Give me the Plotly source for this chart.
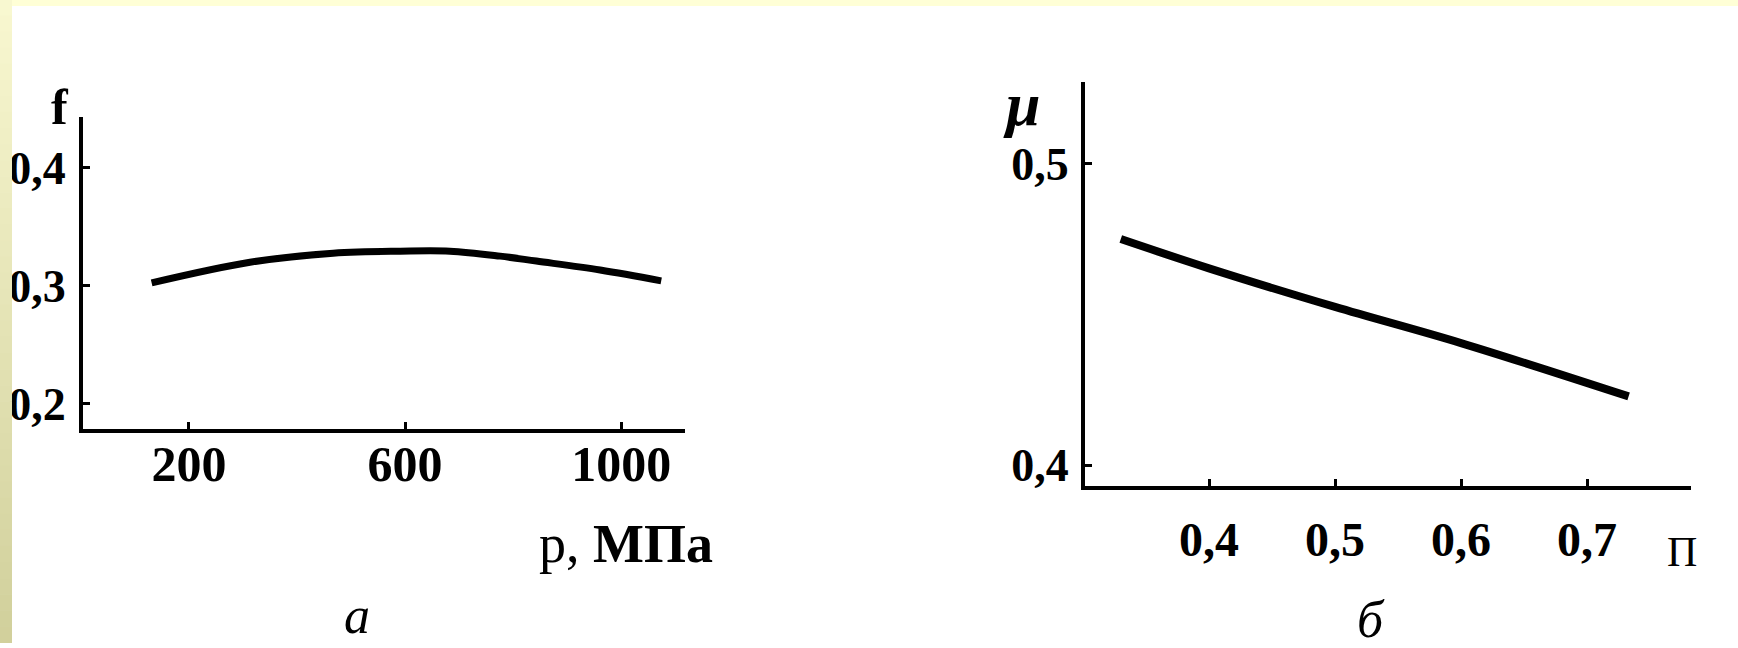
import plotly.graph_objects as go

W, H = 1738, 648

# ---- data (panel a) ----
p_vals = [131, 313, 467, 591, 683, 776, 843, 961, 1074]
f_vals = [0.3025, 0.3200, 0.3277, 0.3294, 0.3294, 0.3252, 0.3210, 0.3134, 0.3042]
a_xticks = [200, 600, 1000]
a_xticktext = ["200", "600", "1000"]
a_yticks = [0.2, 0.3, 0.4]
a_yticktext = ["0,2", "0,3", "0,4"]

# ---- data (panel b) ----
n_vals = [0.33, 0.40, 0.50, 0.60, 0.733]
mu_vals = [0.475, 0.4653, 0.4525, 0.4405, 0.4228]
b_xticks = [0.4, 0.5, 0.6, 0.7]
b_xticktext = ["0,4", "0,5", "0,6", "0,7"]
b_yticks = [0.4, 0.5]
b_yticktext = ["0,4", "0,5"]

SERIF = "Liberation Serif"

fig = go.Figure()
fig.add_trace(go.Scatter(x=p_vals, y=f_vals, mode="lines",
                         line=dict(color="black", width=7, shape="spline"),
                         xaxis="x", yaxis="y", showlegend=False, hoverinfo="skip"))
fig.add_trace(go.Scatter(x=n_vals, y=mu_vals, mode="lines",
                         line=dict(color="black", width=8, shape="spline"),
                         xaxis="x2", yaxis="y2", showlegend=False, hoverinfo="skip"))

def px(x):
    return x / W

def py(y):
    return 1 - y / H

axis_common = dict(showline=True, linecolor="black", linewidth=4, showgrid=False,
                   zeroline=False, ticks="inside", ticklen=7, tickwidth=3,
                   tickcolor="black", fixedrange=True)

fig.update_layout(
    width=W, height=H,
    margin=dict(l=0, r=0, t=0, b=0),
    paper_bgcolor="white", plot_bgcolor="white",
    xaxis=dict(domain=[px(83), px(685)], range=[4, 1118], tickvals=a_xticks,
               ticktext=a_xticktext, anchor="y",
               tickfont=dict(family=SERIF, size=50, color="black", weight="bold"),
               ticklabelstandoff=-12, **axis_common),
    yaxis=dict(domain=[py(432), py(118)], range=[0.179, 0.443], tickvals=a_yticks,
               ticktext=a_yticktext, anchor="x",
               tickfont=dict(family=SERIF, size=46, color="black", weight="bold"),
               ticklabelstandoff=4, **axis_common),
    xaxis2=dict(domain=[px(1085), px(1691)], range=[0.3016, 0.7825], tickvals=b_xticks,
                ticktext=b_xticktext, anchor="y2",
                tickfont=dict(family=SERIF, size=48, color="black", weight="bold"),
                ticklabelstandoff=8, **axis_common),
    yaxis2=dict(domain=[py(490), py(83)], range=[0.393, 0.527], tickvals=b_yticks,
                ticktext=b_yticktext, anchor="x2",
                tickfont=dict(family=SERIF, size=46, color="black", weight="bold"),
                ticklabelstandoff=3, **axis_common),
)

def note(text, x, y, size, italic=False, bold=False):
    fig.add_annotation(text=text, x=px(x), y=py(y), xref="paper", yref="paper",
                       showarrow=False, xanchor="center", yanchor="middle",
                       font=dict(family=SERIF, size=size, color="black",
                                 style="italic" if italic else "normal",
                                 weight="bold" if bold else "normal"))

note("f", 60, 108, 50, bold=True)
note("p, <b>МПа</b>", 626, 548, 54)
note("а", 357, 620, 52, italic=True)
note("μ", 1021, 105, 62, italic=True, bold=True)
note("П", 1682, 556, 42)
note("б", 1371, 624, 52, italic=True)

# scan frame: pale top band and graded left strip
shapes = [dict(type="rect", xref="paper", yref="paper", x0=0, x1=1, y0=py(6), y1=1,
               fillcolor="#FFFFD6", line=dict(width=0), layer="above")]
nb = 40
for i in range(nb):
    t = i / (nb - 1)
    r = int(0xF8 + (0xD2 - 0xF8) * t)
    g = int(0xF8 + (0xD0 - 0xF8) * t)
    b = int(0xD0 + (0x9C - 0xD0) * t)
    shapes.append(dict(type="rect", xref="paper", yref="paper",
                       x0=0, x1=px(12), y0=1 - (i + 1) / nb, y1=1 - i / nb + 0.001,
                       fillcolor=f"rgb({r},{g},{b})", line=dict(width=0), layer="above"))
fig.update_layout(shapes=shapes)

fig.write_html("out.html")
